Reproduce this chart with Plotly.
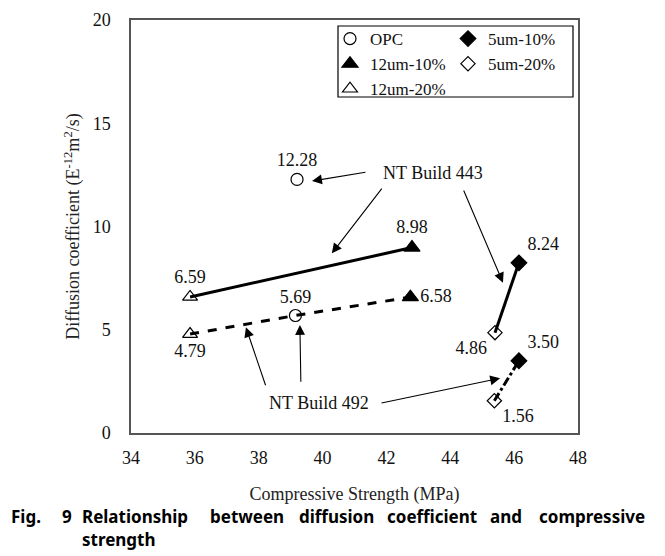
import plotly.graph_objects as go

# ---------------- data ----------------
mixes = ["OPC", "12um-10%", "12um-20%", "5um-10%", "5um-20%"]
# NT Build 443
strength_443 = [39.20, 42.80, 35.85, 46.15, 45.40]
diff_443 = [12.28, 8.98, 6.59, 8.24, 4.86]
# NT Build 492
strength_492 = [39.15, 42.75, 35.85, 46.15, 45.38]
diff_492 = [5.69, 6.58, 4.79, 3.50, 1.56]

x_ticks = [34, 36, 38, 40, 42, 44, 46, 48]
y_ticks = [0, 5, 10, 15, 20]

# ---------------- style ----------------
SERIF = "Liberation Serif"
symbols = {
    "OPC": "circle-open",
    "12um-10%": "triangle-up",
    "12um-20%": "triangle-up-open",
    "5um-10%": "diamond",
    "5um-20%": "diamond-open",
}
sizes = {"OPC": 12, "12um-10%": 14, "12um-20%": 13, "5um-10%": 12, "5um-20%": 11}
legend_of = {"OPC": "legend", "12um-10%": "legend", "12um-20%": "legend",
             "5um-10%": "legend2", "5um-20%": "legend2"}
pos_443 = {"OPC": "top center", "12um-10%": "top center", "12um-20%": "top center",
           "5um-10%": "top right", "5um-20%": "bottom left"}
pos_492 = {"OPC": "top center", "12um-10%": "middle right", "12um-20%": "bottom center",
           "5um-10%": "top right", "5um-20%": "bottom right"}

W, H = 665, 556
# page body has an 8px offset; plot area on screen spans x 131..578, y 20..433
L, T = 123, 12
PW, PH = 447, 413
R, B = W - L - PW, H - T - PH
SX0, SY0 = 131, 433  # screen position of plot-area bottom-left


def px(x):
    return (x - SX0) / PW


def py(y):
    return (SY0 - y) / PH


fig = go.Figure()
idx = {m: i for i, m in enumerate(mixes)}

# NT Build 443 solid lines
for a, b in [("12um-20%", "12um-10%"), ("5um-20%", "5um-10%")]:
    fig.add_trace(go.Scatter(x=[strength_443[idx[a]], strength_443[idx[b]]],
                             y=[diff_443[idx[a]], diff_443[idx[b]]],
                             mode="lines", line=dict(color="black", width=3),
                             showlegend=False, hoverinfo="skip"))
# NT Build 492 dashed lines
order12 = ["12um-20%", "OPC", "12um-10%"]
fig.add_trace(go.Scatter(x=[strength_492[idx[m]] for m in order12],
                         y=[diff_492[idx[m]] for m in order12],
                         mode="lines", line=dict(color="black", width=3, dash="dash"),
                         showlegend=False, hoverinfo="skip"))
fig.add_trace(go.Scatter(x=[strength_492[idx["5um-20%"]], strength_492[idx["5um-10%"]]],
                         y=[diff_492[idx["5um-20%"]], diff_492[idx["5um-10%"]]],
                         mode="lines", line=dict(color="black", width=3, dash="dashdot"),
                         showlegend=False, hoverinfo="skip"))

# markers + value labels
for m in mixes:
    i = idx[m]
    fig.add_trace(go.Scatter(
        x=[strength_443[i], strength_492[i]],
        y=[diff_443[i], diff_492[i]],
        mode="markers+text",
        name=m,
        legend=legend_of[m],
        marker=dict(symbol=symbols[m], size=sizes[m], color="black",
                    line=dict(color="black", width=1.2)),
        text=[f"{diff_443[i]:.2f}", f"{diff_492[i]:.2f}"],
        textposition=[pos_443[m], pos_492[m]],
        textfont=dict(family=SERIF, size=18, color="#111"),
        cliponaxis=False,
    ))

# ---------------- annotations ----------------
ann = []
ann.append(dict(x=43.46, y=12.59, xref="x", yref="y", text="NT Build 443", showarrow=False,
                font=dict(family=SERIF, size=18, color="#111")))
ann.append(dict(x=39.88, y=1.45, xref="x", yref="y", text="NT Build 492", showarrow=False,
                font=dict(family=SERIF, size=18, color="#111")))

arrows = [
    # (tail x, tail y, head x, head y)
    (41.39, 12.64, 39.67, 12.20),
    (41.89, 11.91, 40.29, 8.70),
    (44.40, 11.82, 45.65, 7.28),
    (38.23, 2.24, 37.60, 5.12),
    (39.32, 2.41, 39.29, 5.23),
    (41.80, 1.44, 45.56, 2.65),
]
for tx, ty, hx, hy in arrows:
    ann.append(dict(x=hx, y=hy, ax=tx, ay=ty, xref="x", yref="y", axref="x", ayref="y",
                    text="", showarrow=True, arrowhead=2, arrowsize=1.8, arrowwidth=1.1,
                    arrowcolor="black", standoff=0, startstandoff=0))

# caption (justified first line)
CAPFONT = dict(family="Noto Sans, sans-serif", size=17, color="black")
cap_words = [("Fig.", 9), ("9", 60), ("Relationship", 80), ("between", 208), ("diffusion", 297),
             ("coefficient", 385), ("and", 488), ("compressive", 537)]
for w, xpix in cap_words:
    ann.append(dict(x=px(xpix), y=py(517), xref="paper", yref="paper", text=f"<b>{w}</b>",
                    showarrow=False, xanchor="left", yanchor="middle", font=CAPFONT))
ann.append(dict(x=px(80), y=py(539), xref="paper", yref="paper", text="<b>strength</b>",
                showarrow=False, xanchor="left", yanchor="middle", font=CAPFONT))

# legend frame
shapes = [dict(type="rect", xref="paper", yref="paper",
               x0=px(338), x1=px(573), y0=py(97), y1=py(26),
               line=dict(color="black", width=1.2), fillcolor="white", layer="below")]

axis_common = dict(showgrid=False, zeroline=False, showline=True, mirror=True,
                   linecolor="#555", linewidth=1.5, ticks="",
                   tickfont=dict(family=SERIF, size=18, color="#111"))

LEGFONT = dict(family=SERIF, size=17, color="#111")
fig.update_layout(
    width=W, height=H,
    margin=dict(l=L, r=R, t=T, b=B, autoexpand=False),
    paper_bgcolor="white", plot_bgcolor="white",
    xaxis=dict(range=[34, 48], tickvals=x_ticks, ticklabelstandoff=8,
               title=dict(text="Compressive Strength (MPa)", standoff=20,
                          font=dict(family=SERIF, size=18, color="#222")),
               **axis_common),
    yaxis=dict(range=[0, 20], tickvals=y_ticks, ticklabelstandoff=15,
               title=dict(text="Diffusion coefficient (E<sup>-12</sup>m<sup>2</sup>/s)", standoff=8,
                          font=dict(family=SERIF, size=18, color="#222")),
               **axis_common),
    legend=dict(x=px(330), y=py(21), xanchor="left", yanchor="top",
                bgcolor="rgba(0,0,0,0)", borderwidth=0, tracegroupgap=0,
                itemwidth=30, font=LEGFONT),
    legend2=dict(x=px(448), y=py(21), xanchor="left", yanchor="top",
                 bgcolor="rgba(0,0,0,0)", borderwidth=0, tracegroupgap=0,
                 itemwidth=30, font=LEGFONT),
    annotations=ann,
    shapes=shapes,
    showlegend=True,
)

fig.write_html("out.html")
